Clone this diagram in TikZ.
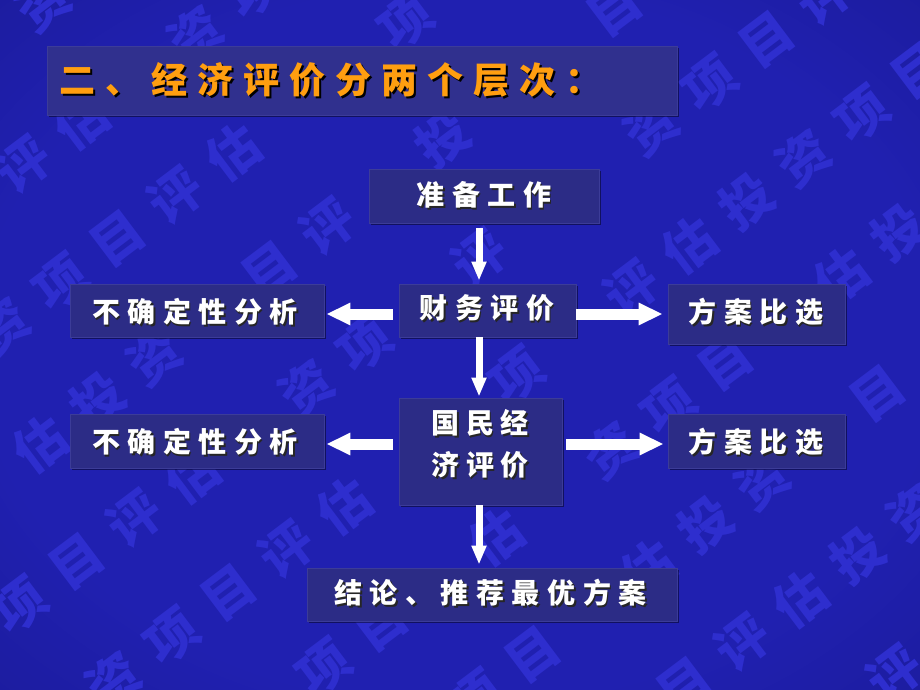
\documentclass[tikz,border=0pt]{standalone}
\usepackage{fontspec}
\newfontfamily\cjk{Noto Sans CJK SC}
\usetikzlibrary{arrows.meta,calc,shadows}
\definecolor{bgin}{RGB}{32,32,176}
\definecolor{bgout}{RGB}{14,14,98}
\definecolor{wm}{RGB}{46,46,206}
\definecolor{boxfill}{RGB}{44,44,134}
\definecolor{boxline}{RGB}{60,60,152}
\definecolor{titlefill}{RGB}{48,48,142}
\definecolor{orangetxt}{RGB}{255,158,16}
\newcommand\myBodyFont{\cjk\bfseries\fontsize{28}{34}\selectfont}
\newcommand\myTitleFont{\cjk\bfseries\fontsize{36}{40}\selectfont}
\newcommand\myWmFont{\cjk\bfseries\fontsize{52}{52}\selectfont}
\ExplSyntaxOn
\NewDocumentCommand\spc{m m}{\tl_map_inline:nn {#2}{##1\kern#1}\unkern}
\ExplSyntaxOff
\pgfdeclareradialshading{vign}{\pgfpoint{0bp}{0bp}}{color(0bp)=(bgin); color(26bp)=(bgin); color(72bp)=(bgout)}
\newcommand\lbl[3]{\node[shd] at ($#1+(1.6,1.6)$) {#3};\node[txt] (#2) at #1 {#3};}
\begin{document}
\begin{tikzpicture}[x=1pt,y=-1pt,
  declare function={inb(\x,\y,\a,\b,\c,\d)=and(and(\x>\a,\x<\b),and(\y>\c,\y<\d));},
  box/.style={draw=boxline, line width=0.8pt, fill=boxfill, inner sep=0pt,
    drop shadow={shadow xshift=2pt, shadow yshift=-2pt, fill=black, opacity=0.45}},
  txt/.style={text=white, inner sep=0pt, font=\myBodyFont},
  shd/.style={text=black!85, inner sep=0pt, font=\myBodyFont},
  ttl/.style={text=orangetxt, inner sep=0pt, font=\myTitleFont, anchor=west},
  ttlshd/.style={text=black, inner sep=0pt, font=\myTitleFont, anchor=west},
  wmc/.style={text=wm, font=\myWmFont, rotate=37, inner sep=0pt},
  harr/.style={draw=white, line width=11pt, -{Triangle[length=24pt,width=21pt]}},
  varr/.style={draw=white, line width=7pt, -{Triangle[length=19pt,width=14pt]}}
]
\useasboundingbox (0,0) rectangle (920,690);
\shade[shading=vign] (0,0) rectangle (920,690);
% watermark
\begin{scope}
\clip (0,0) rectangle (920,690);
\foreach \i in {-5,...,6}{
  \foreach \r in {-2,...,4}{
    \foreach \ch [count=\k from 0] in {投,资,项,目,评,估}{
      \pgfmathsetmacro\wn{6*\r+\k-3}
      \pgfmathsetmacro\wx{77+152*\i+57.5*\wn}
      \pgfmathsetmacro\wy{562+31*\i-43.5*\wn}
      \pgfmathparse{((\wx>-12)&&(\wx<932)&&(\wy>-12)&&(\wy<702))?1:0}
      \let\wok\pgfmathresult
      \pgfmathparse{(inb(\wx,\wy,47,677,46,115)||inb(\wx,\wy,369,599,169,223)||inb(\wx,\wy,399,576,284,337)||inb(\wx,\wy,70,324,284,337)||inb(\wx,\wy,668,845,284,344)||inb(\wx,\wy,399,562,398,505)||inb(\wx,\wy,70,324,414,468)||inb(\wx,\wy,668,845,414,468)||inb(\wx,\wy,307,677,568,621))?0:1}
      \ifdim\wok pt>0.5pt
      \ifdim\pgfmathresult pt>0.5pt
        \node[wmc] at (\wx,\wy) {\ch};
      \fi\fi
    }}}
\end{scope}
% boxes
\node[box, fill=titlefill, minimum width=630pt, minimum height=69pt] (title) at (362,80.5) {};
\node[box, minimum width=230pt, minimum height=54pt] (prep) at (484,196) {};
\node[box, minimum width=177pt, minimum height=53pt] (fin) at (487.5,310.5) {};
\node[box, minimum width=254pt, minimum height=53pt] (unc1) at (197,310.5) {};
\node[box, minimum width=177pt, minimum height=60pt] (cmp1) at (756.5,314) {};
\node[box, minimum width=163pt, minimum height=107pt] (nat) at (480.5,451.5) {};
\node[box, minimum width=254pt, minimum height=54pt] (unc2) at (197,441) {};
\node[box, minimum width=177pt, minimum height=54pt] (cmp2) at (756.5,441) {};
\node[box, minimum width=370pt, minimum height=53pt] (concl) at (492,594.5) {};
% title text
\node[ttlshd] at (61,82) {\spc{10pt}{二、经济评价分两个层次：}};
\node[ttl] (titletext) at (59,80) {\spc{10pt}{二、经济评价分两个层次：}};
% labels
\lbl{(484,195)}{prept}{\spc{7.5pt}{准备工作}}
\lbl{(487,308)}{fint}{\spc{7.5pt}{财务评价}}
\lbl{(195,312)}{unc1t}{\spc{7.5pt}{不确定性分析}}
\lbl{(756,312)}{cmp1t}{\spc{7.5pt}{方案比选}}
\lbl{(480,423)}{natta}{\spc{6.5pt}{国民经}}
\lbl{(480,465)}{nattb}{\spc{6.5pt}{济评价}}
\lbl{(195,442)}{unc2t}{\spc{7.5pt}{不确定性分析}}
\lbl{(756,442)}{cmp2t}{\spc{7.5pt}{方案比选}}
\lbl{(490.5,593)}{conclt}{\spc{7.5pt}{结论、推荐最优方案}}
% connectors
\coordinate (vx) at (479,0);
\coordinate (hy1) at (0,314);
\coordinate (hy2) at (0,444);
\draw[varr, shorten <=5pt, shorten >=3pt] (prep.south -| vx) -- (fin.north -| vx);
\draw[varr, shorten >=1pt] (fin.south -| vx) -- (nat.north -| vx);
\draw[varr, shorten >=3pt] (nat.south -| vx) -- (concl.north -| vx);
\draw[harr, shorten <=6pt, shorten >=2pt] (fin.west |- hy1) -- (unc1.east |- hy1);
\draw[harr, shorten >=5pt] (fin.east |- hy1) -- (cmp1.west |- hy1);
\draw[harr, shorten <=6pt, shorten >=2pt] (nat.west |- hy2) -- (unc2.east |- hy2);
\draw[harr, shorten <=4pt, shorten >=4pt] (nat.east |- hy2) -- (cmp2.west |- hy2);
\end{tikzpicture}
\end{document}
